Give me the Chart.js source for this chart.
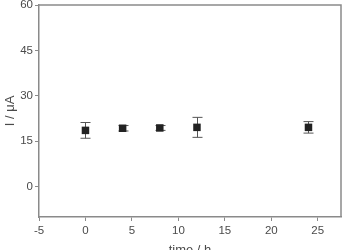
<!DOCTYPE html>
<html>
<head>
<meta charset="utf-8">
<script src="https://cdn.jsdelivr.net/npm/chart.js@4"></script>
<style>
  html, body { margin: 0; padding: 0; background: #fff; }
  #wrap { width: 343px; height: 250px; overflow: hidden; }
</style>
</head>
<body>
<div id="wrap"><canvas id="chart" width="343" height="258"></canvas></div>
<script>
// time (h) and current (uA) with error bars
const times = [0, 4, 8, 12, 24];
const current = [18.6, 19.3, 19.4, 19.6, 19.6];
const errors = [2.6, 0.9, 0.8, 3.3, 1.9];
const xTicks = [-5, 0, 5, 10, 15, 20, 25];
const yTicks = [0, 15, 30, 45, 60];

const axisColor = '#8a8a8a';
const labelColor = '#4a4a4a';
const fontFamily = '"Liberation Sans", Arial, sans-serif';

// draws the error bars and the frame around the plot
const errorBars = {
    id: 'errorBars',
    beforeDatasetsDraw(chart) {
        const ctx = chart.ctx;
        const xs = chart.scales.x;
        const ys = chart.scales.y;
        ctx.save();
        ctx.strokeStyle = '#555';
        ctx.lineWidth = 1;
        times.forEach((t, i) => {
            const px = Math.round(xs.getPixelForValue(t)) + 0.5;
            const top = ys.getPixelForValue(current[i] + errors[i]);
            const bot = ys.getPixelForValue(current[i] - errors[i]);
            ctx.beginPath();
            ctx.moveTo(px, top);
            ctx.lineTo(px, bot);
            ctx.moveTo(px - 5, top);
            ctx.lineTo(px + 5, top);
            ctx.moveTo(px - 5, bot);
            ctx.lineTo(px + 5, bot);
            ctx.stroke();
        });
        ctx.restore();
    },
    afterDraw(chart) {
        const a = chart.chartArea;
        const ctx = chart.ctx;
        ctx.save();
        ctx.strokeStyle = axisColor;
        ctx.lineWidth = 1.5;
        ctx.beginPath();
        ctx.moveTo(a.left, a.top);
        ctx.lineTo(a.right, a.top);
        ctx.lineTo(a.right, a.bottom);
        ctx.stroke();
        ctx.restore();
    }
};

new Chart(document.getElementById('chart'), {
    type: 'scatter',
    data: {
        datasets: [{
            data: times.map((t, i) => ({ x: t, y: current[i] })),
            pointStyle: 'rect',
            pointRadius: 5.3,
            pointHoverRadius: 5.3,
            backgroundColor: '#222',
            borderColor: '#222',
            borderWidth: 0
        }]
    },
    options: {
        responsive: false,
        animation: false,
        layout: { autoPadding: false, padding: { top: 5, right: 2, left: 0, bottom: 0 } },
        plugins: { legend: { display: false }, tooltip: { enabled: false } },
        scales: {
            x: {
                min: -5,
                max: 27.5,
                afterBuildTicks: s => { s.ticks = xTicks.map(v => ({ value: v })); },
                afterFit: s => { s.height = 41; s.paddingLeft = 0; s.paddingRight = 0; },
                border: { display: true, color: axisColor, width: 1.5 },
                grid: { drawOnChartArea: false, drawTicks: true, tickLength: 4, color: axisColor },
                ticks: { color: labelColor, font: { family: fontFamily, size: 11.5 }, padding: 3, maxRotation: 0 },
                title: { display: true, text: 'time / h', color: labelColor, font: { family: fontFamily, size: 13 }, padding: { top: 1, bottom: 0 } }
            },
            y: {
                min: -10,
                max: 60,
                afterBuildTicks: s => { s.ticks = yTicks.map(v => ({ value: v })); },
                afterFit: s => { s.width = 39; s.paddingTop = 0; s.paddingBottom = 0; },
                border: { display: true, color: axisColor, width: 1.5 },
                grid: { drawOnChartArea: false, drawTicks: true, tickLength: 4, color: axisColor },
                ticks: { color: labelColor, font: { family: fontFamily, size: 11.5 }, padding: 2 },
                title: { display: true, text: 'I / μA', color: labelColor, font: { family: fontFamily, size: 13 }, padding: { top: 3, bottom: 0 } }
            }
        }
    },
    plugins: [errorBars]
});
</script>
</body>
</html>
